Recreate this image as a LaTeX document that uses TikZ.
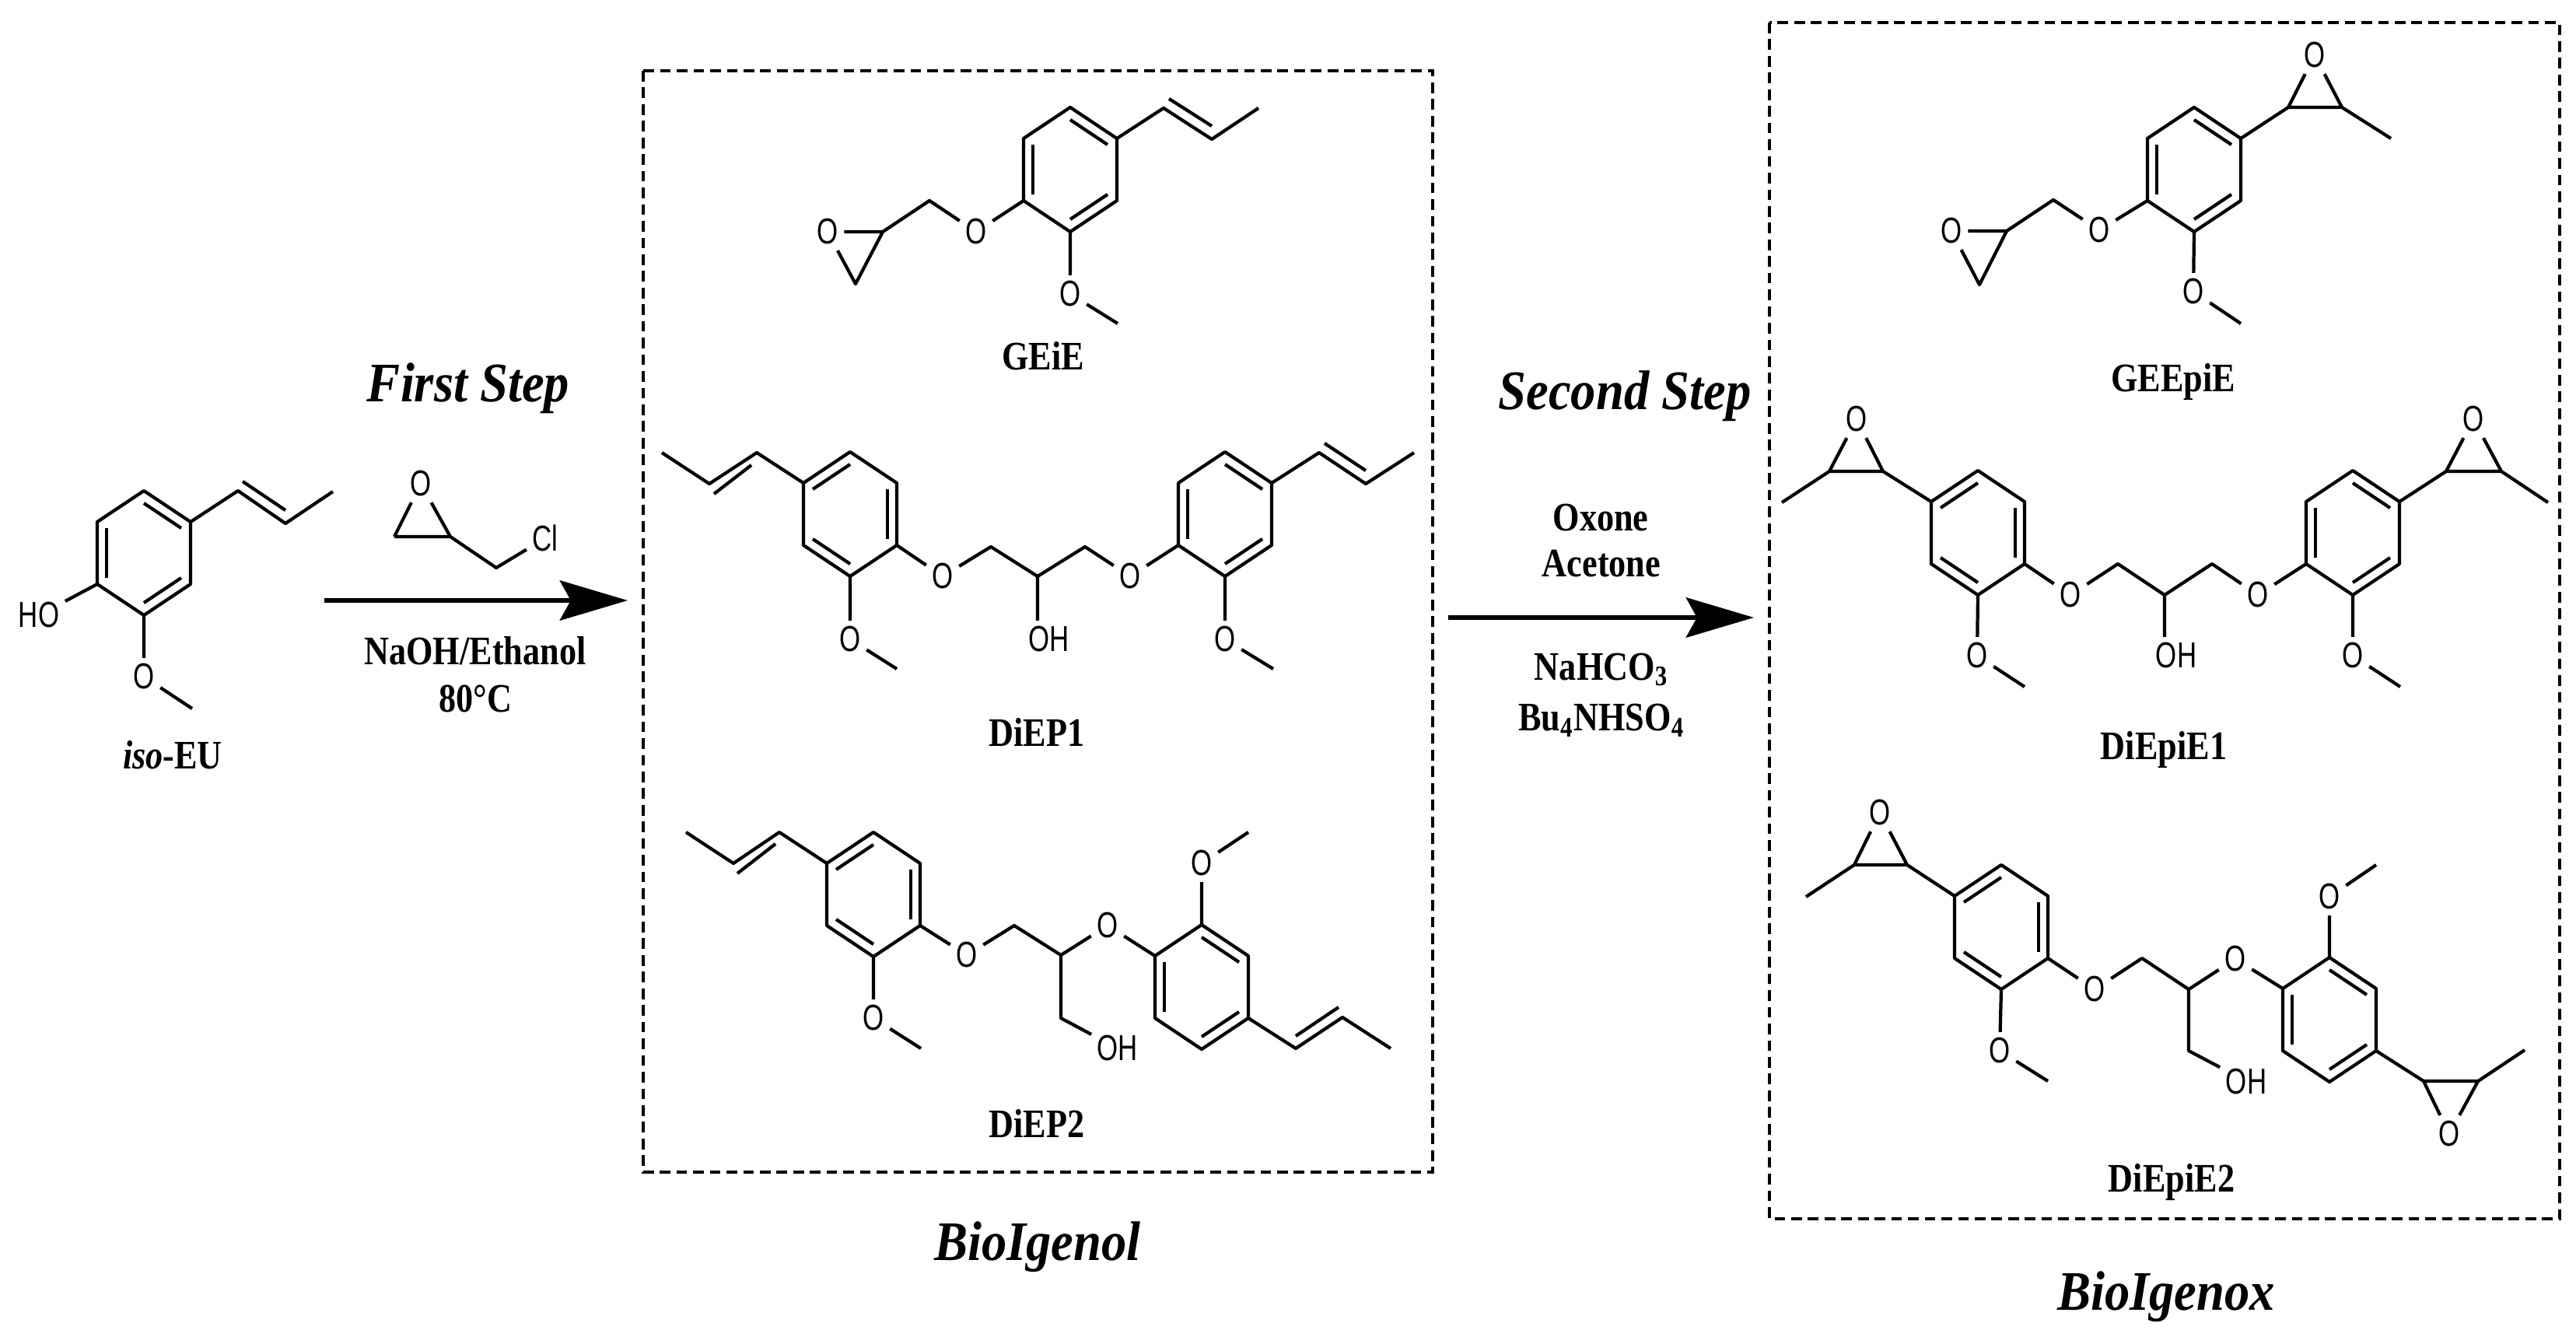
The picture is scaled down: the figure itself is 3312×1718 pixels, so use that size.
\documentclass[tikz,border=0pt]{standalone}
\usepackage{fontspec}
\setmainfont{Liberation Serif}[FakeStretch=0.9]
\newfontfamily\lblfont{Liberation Serif}[FakeStretch=0.85]
\newfontfamily\atomfont{Liberation Sans}[FakeStretch=0.75]
\usetikzlibrary{arrows.meta,calc}
\tikzset{
	bond/.style={line width=1.2pt,line join=round},
	atom/.style={font=\atomfont\fontsize{13.2}{15}\selectfont,inner sep=2pt},
	lbl/.style={font=\lblfont\fontsize{14.8}{16}\selectfont\bfseries,inner sep=0pt},
	ttl/.style={font=\fontsize{20.4}{22}\selectfont\bfseries\itshape,inner sep=0pt},
	dashbox/.style={line width=1.35pt,dash pattern=on 3.9pt off 2.2pt},
	rxnarrow/.style={line width=1.7pt,-{Stealth[length=24.8pt,width=14.6pt,inset=4pt]}}
}
\newcommand{\arene}[3]{
	\path (#2) coordinate (#1)
	+(0,-80) coordinate (#11) +(60,-40) coordinate (#12) +(60,40) coordinate (#13)
	+(0,80) coordinate (#14) +(-60,40) coordinate (#15) +(-60,-40) coordinate (#16);
	\draw[bond] (#11)--(#12)--(#13)--(#14)--(#15)--(#16)--cycle;
	\foreach \a/\b in {#3} \draw[bond] ($(#1\a)!.2!(#1)$)--($(#1\b)!.2!(#1)$);
}
\begin{document}
\begin{tikzpicture}[x=.01cm,y=-.01cm]
	\useasboundingbox (0,0) rectangle (3312,1718);
	% iso-EU
	\arene{e}{185,711}{1/2,3/4,5/6}
	\path
	(306,631) coordinate (e7)
	(367,673) coordinate (e8)
	(428,632) coordinate (e9)
	(247,911) coordinate (e10);
	\node[atom] (eho) at (50,791) {HO};
	\node[atom] (eo) at (185,870) {O};
	\draw[bond] (e2)--(e7)--(e8)--(e9) (e5)--(eho) (e4)--(eo)--(e10);
	\draw[bond] ($(e7)+(6,-12)$)--($(e8)+(0,-17)$);
	\node[lbl] (elbl) at (222,971) {\textit{iso}-EU};
	% first step
	\path
	(507,690) coordinate (c1)
	(579,690) coordinate (c2)
	(638,730) coordinate (c3)
	(417,772) coordinate (ar1a)
	(807,772) coordinate (ar1b);
	\node[atom] (co) at (541,622) {O};
	\node[atom] (ccl) at (701,692) {Cl};
	\draw[bond] (c1)--(co)--(c2)--(c1) (c2)--(c3)--(ccl);
	\draw[rxnarrow] (ar1a)--(ar1b);
	\node[ttl] (step1) at (602,499) {First Step};
	\node[lbl] (r1a) at (611,837) {NaOH/Ethanol};
	\node[lbl] (r1b) at (611,898) {80°C};
	% BioIgenol
	\draw[dashbox] (827,91) rectangle (1842,1507);
	\node[ttl] (bio1) at (1334,1603) {BioIgenol};
	% GEiE
	\arene{g}{1376,218}{1/2,3/4,5/6}
	\path
	(1496,139) coordinate (g7)
	(1558,179) coordinate (g8)
	(1618,139) coordinate (g9)
	(1437,416) coordinate (g10)
	(1195,258) coordinate (g11)
	(1135,298) coordinate (g12)
	(1100,365) coordinate (g13);
	\node[atom] (go) at (1376,378) {O};
	\node[atom] (ge) at (1255,298) {O};
	\node[atom] (gx) at (1064,298) {O};
	\draw[bond] (g2)--(g7)--(g8)--(g9) (g4)--(go)--(g10) (g5)--(ge)--(g11)--(g12)--(gx)--(g13)--(g12);
	\draw[bond] ($(g7)+(7,-12)$)--($(g8)+(0,-17)$);
	\node[lbl] (glbl) at (1341,458) {GEiE};
	% DiEP1
	\arene{p}{1093,661}{6/1,2/3,4/5}
	\arene{q}{1575,661}{1/2,3/4,5/6}
	\path
	(973,582) coordinate (p7)
	(912,622) coordinate (p8)
	(851,582) coordinate (p9)
	(1153,860) coordinate (p10)
	(1274,703) coordinate (m1)
	(1334,741) coordinate (m2)
	(1395,703) coordinate (m3)
	(1696,582) coordinate (q7)
	(1756,622) coordinate (q8)
	(1818,582) coordinate (q9)
	(1637,860) coordinate (q10);
	\node[atom] (po) at (1093,822) {O};
	\node[atom] (pe) at (1212,741) {O};
	\node[atom] (moh) at (1349,822) {OH};
	\node[atom] (qe) at (1453,741) {O};
	\node[atom] (qo) at (1575,822) {O};
	\draw[bond] (p6)--(p7)--(p8)--(p9) (p4)--(po)--(p10) (p3)--(pe)--(m1)--(m2)--(m3)--(qe)--(q5);
	\draw[bond] (m2)--(m2|-moh.north) (q2)--(q7)--(q8)--(q9) (q4)--(qo)--(q10);
	\draw[bond] ($(p7)+(-7,16)$)--($(p8)+(6,13)$) ($(q7)+(7,-12)$)--($(q8)+(0,-17)$);
	\node[lbl] (plbl) at (1333,941) {DiEP1};
	% DiEP2
	\arene{s}{1123,1150}{6/1,2/3,4/5}
	\arene{t}{1545,1269}{1/2,3/4,5/6}
	\path
	(1002,1070) coordinate (s7)
	(943,1110) coordinate (s8)
	(882,1070) coordinate (s9)
	(1184,1348) coordinate (s10)
	(1304,1190) coordinate (n1)
	(1364,1228) coordinate (n2)
	(1364,1309) coordinate (n3)
	(1605,1070) coordinate (t10)
	(1666,1348) coordinate (t7)
	(1726,1308) coordinate (t8)
	(1788,1348) coordinate (t9);
	\node[atom] (so) at (1123,1309) {O};
	\node[atom] (se) at (1243,1228) {O};
	\node[atom] (te) at (1424,1190) {O};
	\node[atom] (noh) at (1437,1348) {OH};
	\node[atom] (to) at (1545,1110) {O};
	\draw[bond] (s6)--(s7)--(s8)--(s9) (s4)--(so)--(s10) (s3)--(se)--(n1)--(n2)--(te)--(t6);
	\draw[bond] (n2)--(n3)--(noh) (t1)--(to)--(t10) (t3)--(t7)--(t8)--(t9);
	\draw[bond] ($(s7)+(-5,15)$)--($(s8)+(5,13)$) ($(t7)+(0,-16)$)--($(t8)+(-5,-13)$);
	\node[lbl] (slbl) at (1333,1444) {DiEP2};
	% second step
	\path
	(1862,794) coordinate (ar2a)
	(2255,794) coordinate (ar2b);
	\draw[rxnarrow] (ar2a)--(ar2b);
	\node[ttl] (step2) at (2089,509) {Second Step};
	\node[lbl] (r2a) at (2058,666) {Oxone};
	\node[lbl] (r2b) at (2059,725) {Acetone};
	\node[lbl] (r2c) at (2059,861) {NaHCO\textsubscript{3}};
	\node[lbl] (r2d) at (2059,926) {Bu\textsubscript{4}NHSO\textsubscript{4}};
	% BioIgenox
	\draw[dashbox] (2275,29) rectangle (3291,1567);
	\node[ttl] (bio2) at (2785,1667) {BioIgenox};
	% GEEpiE
	\arene{h}{2821,218}{1/2,3/4,5/6}
	\path
	(2942,138) coordinate (h7)
	(3011,138) coordinate (h8)
	(3074,178) coordinate (h9)
	(2881,416) coordinate (h10)
	(2640,257) coordinate (h11)
	(2580,297) coordinate (h12)
	(2545,366) coordinate (h13);
	\node[atom] (hy) at (2976,71) {O};
	\node[atom] (ho) at (2820,375) {O};
	\node[atom] (he) at (2699,296) {O};
	\node[atom] (hx) at (2509,297) {O};
	\draw[bond] (h2)--(h7)--(hy)--(h8)--(h9) (h7)--(h8) (h4)--(ho)--(h10);
	\draw[bond] (h5)--(he)--(h11)--(h12)--(hx)--(h13)--(h12);
	\node[lbl] (hlbl) at (2794,491) {GEEpiE};
	% DiEpiE1
	\arene{u}{2543,685}{6/1,2/3,4/5}
	\arene{v}{3025,685}{1/2,3/4,5/6}
	\path
	(2421,606) coordinate (u7)
	(2352,606) coordinate (u8)
	(2291,646) coordinate (u9)
	(2603,883) coordinate (u10)
	(2723,725) coordinate (k1)
	(2783,765) coordinate (k2)
	(2844,725) coordinate (k3)
	(3145,606) coordinate (v7)
	(3216,606) coordinate (v8)
	(3276,646) coordinate (v9)
	(3086,883) coordinate (v10);
	\node[atom] (uy) at (2387,539) {O};
	\node[atom] (uo) at (2542,843) {O};
	\node[atom] (ue) at (2662,765) {O};
	\node[atom] (koh) at (2798,843) {OH};
	\node[atom] (ve) at (2903,765) {O};
	\node[atom] (vo) at (3025,843) {O};
	\node[atom] (vy) at (3180,539) {O};
	\draw[bond] (u6)--(u7)--(uy)--(u8)--(u9) (u7)--(u8) (u4)--(uo)--(u10);
	\draw[bond] (u3)--(ue)--(k1)--(k2)--(k3)--(ve)--(v5) (k2)--(k2|-koh.north);
	\draw[bond] (v2)--(v7)--(vy)--(v8)--(v9) (v7)--(v8) (v4)--(vo)--(v10);
	\node[lbl] (ulbl) at (2782,964) {DiEpiE1};
	% DiEpiE2
	\arene{w}{2573,1192}{6/1,2/3,4/5}
	\arene{z}{2995,1311}{1/2,3/4,5/6}
	\path
	(2452,1112) coordinate (w7)
	(2384,1112) coordinate (w8)
	(2322,1153) coordinate (w9)
	(2633,1390) coordinate (w10)
	(2754,1232) coordinate (l1)
	(2814,1272) coordinate (l2)
	(2814,1351) coordinate (l3)
	(3055,1112) coordinate (z10)
	(3116,1390) coordinate (z7)
	(3186,1390) coordinate (z8)
	(3246,1350) coordinate (z9);
	\node[atom] (wy) at (2417,1045) {O};
	\node[atom] (wo) at (2571,1351) {O};
	\node[atom] (we) at (2693,1272) {O};
	\node[atom] (ze) at (2874,1233) {O};
	\node[atom] (loh) at (2888,1390) {OH};
	\node[atom] (zo) at (2995,1153) {O};
	\node[atom] (zy) at (3149,1458) {O};
	\draw[bond] (w6)--(w7)--(wy)--(w8)--(w9) (w7)--(w8) (w4)--(wo)--(w10);
	\draw[bond] (w3)--(we)--(l1)--(l2)--(ze)--(z6) (l2)--(l3)--(loh);
	\draw[bond] (z1)--(zo)--(z10) (z3)--(z7)--(zy)--(z8)--(z9) (z7)--(z8);
	\node[lbl] (wlbl) at (2792,1520) {DiEpiE2};
\end{tikzpicture}
\end{document}
